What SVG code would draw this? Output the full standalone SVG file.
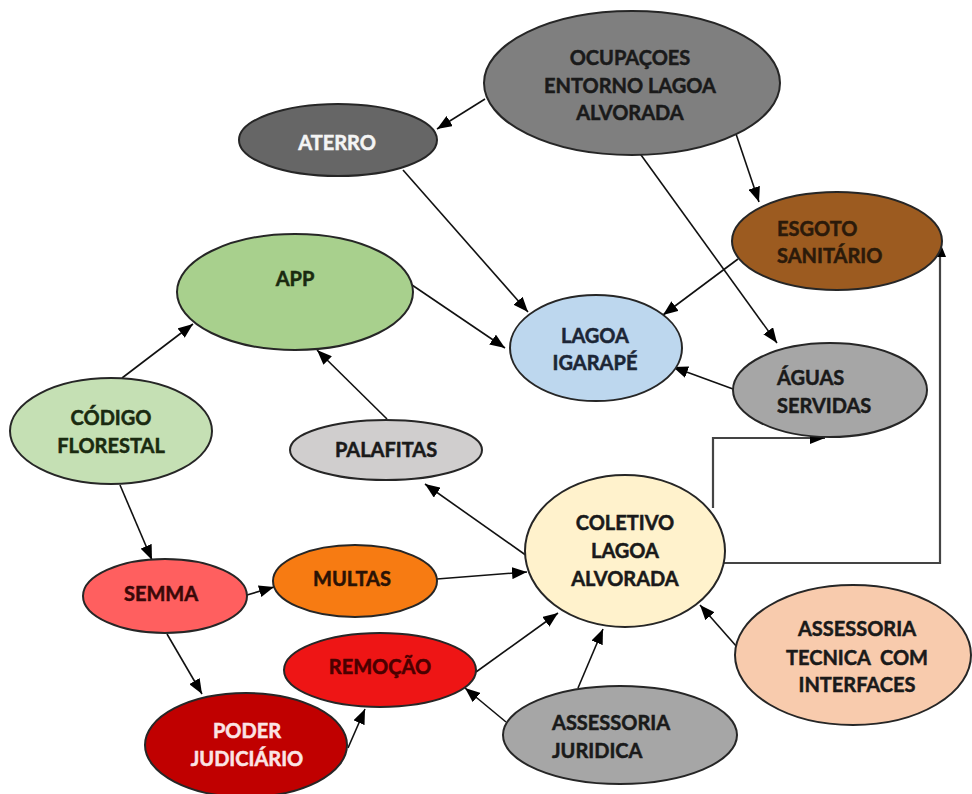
<svg xmlns="http://www.w3.org/2000/svg" width="972" height="794" viewBox="0 0 972 794">
<style>
.n{stroke:#262626;stroke-width:2}
text{font-family:Lato,"Open Sans","Liberation Sans",sans-serif;font-weight:bold;font-size:20px;text-anchor:middle;dominant-baseline:central;stroke-width:0.5px}
.l{text-anchor:start}
.c{fill:none;stroke:#111;stroke-width:1.6}
.e{fill:none;stroke:#444;stroke-width:2.2}
</style>
<defs>
<marker id="a" markerUnits="userSpaceOnUse" markerWidth="15" markerHeight="12" refX="15" refY="6" orient="auto">
<path d="M0,0 L15,6 L0,12 z" fill="#000"/>
</marker>
</defs>
<rect width="972" height="794" fill="#fff"/>
<g id="connectors">
<line class="c" x1="485" y1="99" x2="437" y2="129" marker-end="url(#a)"/>
<line class="c" x1="734" y1="128" x2="759" y2="202" marker-end="url(#a)"/>
<line class="c" x1="636" y1="148" x2="777" y2="343" marker-end="url(#a)"/>
<line class="c" x1="403" y1="170" x2="528" y2="312" marker-end="url(#a)"/>
<line class="c" x1="412" y1="285" x2="505" y2="348" marker-end="url(#a)"/>
<line class="c" x1="738" y1="259" x2="663" y2="315" marker-end="url(#a)"/>
<line class="c" x1="733" y1="389" x2="673" y2="367" marker-end="url(#a)"/>
<line class="c" x1="122" y1="378" x2="193" y2="324" marker-end="url(#a)"/>
<line class="c" x1="387" y1="419" x2="317" y2="350" marker-end="url(#a)"/>
<line class="c" x1="527" y1="556" x2="425" y2="484" marker-end="url(#a)"/>
<polyline class="e" points="713,508 713,438 825,438" marker-end="url(#a)"/>
<polyline class="e" points="724,563 940,563 940,242" marker-end="url(#a)"/>
<line class="c" x1="120" y1="485" x2="152" y2="560" marker-end="url(#a)"/>
<line class="c" x1="247" y1="595" x2="274" y2="587" marker-end="url(#a)"/>
<line class="c" x1="167" y1="634" x2="202" y2="694" marker-end="url(#a)"/>
<line class="c" x1="437" y1="579" x2="527" y2="572" marker-end="url(#a)"/>
<line class="c" x1="348" y1="748" x2="365" y2="709" marker-end="url(#a)"/>
<line class="c" x1="476" y1="672" x2="558" y2="613" marker-end="url(#a)"/>
<line class="c" x1="506" y1="722" x2="465" y2="688" marker-end="url(#a)"/>
<line class="c" x1="578" y1="688" x2="603" y2="629" marker-end="url(#a)"/>
<line class="c" x1="737" y1="647" x2="700" y2="605" marker-end="url(#a)"/>
</g>
<g id="ocupacoes">
<ellipse class="n" cx="632" cy="83" rx="148" ry="72" fill="#7f7f7f"/>
<text x="630" y="57" fill="#1a1a1a" stroke="#1a1a1a">OCUPAÇOES</text>
<text x="630" y="85" fill="#1a1a1a" stroke="#1a1a1a">ENTORNO LAGOA</text>
<text x="630" y="112" fill="#1a1a1a" stroke="#1a1a1a">ALVORADA</text>
</g>
<g id="aterro">
<ellipse class="n" cx="338" cy="140" rx="99" ry="36" fill="#666"/>
<text x="337" y="142" fill="#f4f4f4" stroke="#f4f4f4">ATERRO</text>
</g>
<g id="esgoto">
<ellipse class="n" cx="837" cy="241" rx="105" ry="49" fill="#9c5b20"/>
<text class="l" x="777" y="228" fill="#2b1a0a" stroke="#2b1a0a">ESGOTO</text>
<text class="l" x="777" y="255" fill="#2b1a0a" stroke="#2b1a0a">SANITÁRIO</text>
</g>
<g id="app">
<ellipse class="n" cx="295" cy="292" rx="118" ry="58" fill="#a8d08d"/>
<text x="295" y="278" fill="#1a2a10" stroke="#1a2a10" font-size="23">APP</text>
</g>
<g id="lagoa">
<ellipse class="n" cx="596" cy="348" rx="86" ry="53" fill="#bdd7ee"/>
<text x="595" y="335" fill="#1c2636" stroke="#1c2636">LAGOA</text>
<text x="595" y="362" fill="#1c2636" stroke="#1c2636">IGARAPÉ</text>
</g>
<g id="aguas">
<ellipse class="n" cx="830" cy="390" rx="97" ry="47" fill="#a6a6a6"/>
<text class="l" x="777" y="377" fill="#1a1a1a" stroke="#1a1a1a">ÁGUAS</text>
<text class="l" x="777" y="405" fill="#1a1a1a" stroke="#1a1a1a">SERVIDAS</text>
</g>
<g id="codigo">
<ellipse class="n" cx="111" cy="431" rx="101" ry="53" fill="#c5e0b4"/>
<text x="111" y="417" fill="#1a2a10" stroke="#1a2a10">CÓDIGO</text>
<text x="111" y="445" fill="#1a2a10" stroke="#1a2a10">FLORESTAL</text>
</g>
<g id="palafitas">
<ellipse class="n" cx="386" cy="450" rx="96" ry="30" fill="#d0cece"/>
<text x="386" y="449" fill="#1a1a1a" stroke="#1a1a1a">PALAFITAS</text>
</g>
<g id="coletivo">
<ellipse class="n" cx="625" cy="551" rx="100" ry="76" fill="#fff2cc"/>
<text x="625" y="522" fill="#1a1a1a" stroke="#1a1a1a">COLETIVO</text>
<text x="625" y="550" fill="#1a1a1a" stroke="#1a1a1a">LAGOA</text>
<text x="625" y="578" fill="#1a1a1a" stroke="#1a1a1a">ALVORADA</text>
</g>
<g id="semma">
<ellipse class="n" cx="165" cy="596" rx="82" ry="37" fill="#ff5f5f"/>
<text x="161" y="593" fill="#3a0808" stroke="#3a0808">SEMMA</text>
</g>
<g id="multas">
<ellipse class="n" cx="355" cy="581" rx="82" ry="36" fill="#f77b12"/>
<text x="352" y="578" fill="#2a1205" stroke="#2a1205">MULTAS</text>
</g>
<g id="remocao">
<ellipse class="n" cx="380" cy="670" rx="96" ry="37" fill="#ee1515"/>
<text x="380" y="666" fill="#4a0000" stroke="#4a0000">REMOÇÃO</text>
</g>
<g id="poder">
<ellipse class="n" cx="246" cy="745" rx="101" ry="52" fill="#c00000"/>
<text x="247" y="730" fill="#fbe4e4" stroke="#fbe4e4">PODER</text>
<text x="247" y="758" fill="#fbe4e4" stroke="#fbe4e4">JUDICIÁRIO</text>
</g>
<g id="assessoria-juridica">
<ellipse class="n" cx="620" cy="735" rx="117" ry="49" fill="#a6a6a6"/>
<text class="l" x="552" y="722" fill="#1a1a1a" stroke="#1a1a1a">ASSESSORIA</text>
<text class="l" x="552" y="750" fill="#1a1a1a" stroke="#1a1a1a">JURIDICA</text>
</g>
<g id="assessoria-tecnica">
<ellipse class="n" cx="853" cy="655" rx="118" ry="70" fill="#f8cbad"/>
<text x="857" y="628" fill="#1a1a1a" stroke="#1a1a1a">ASSESSORIA</text>
<text x="857" y="657" fill="#1a1a1a" stroke="#1a1a1a" xml:space="preserve">TECNICA  COM</text>
<text x="857" y="684" fill="#1a1a1a" stroke="#1a1a1a">INTERFACES</text>
</g>
</svg>
